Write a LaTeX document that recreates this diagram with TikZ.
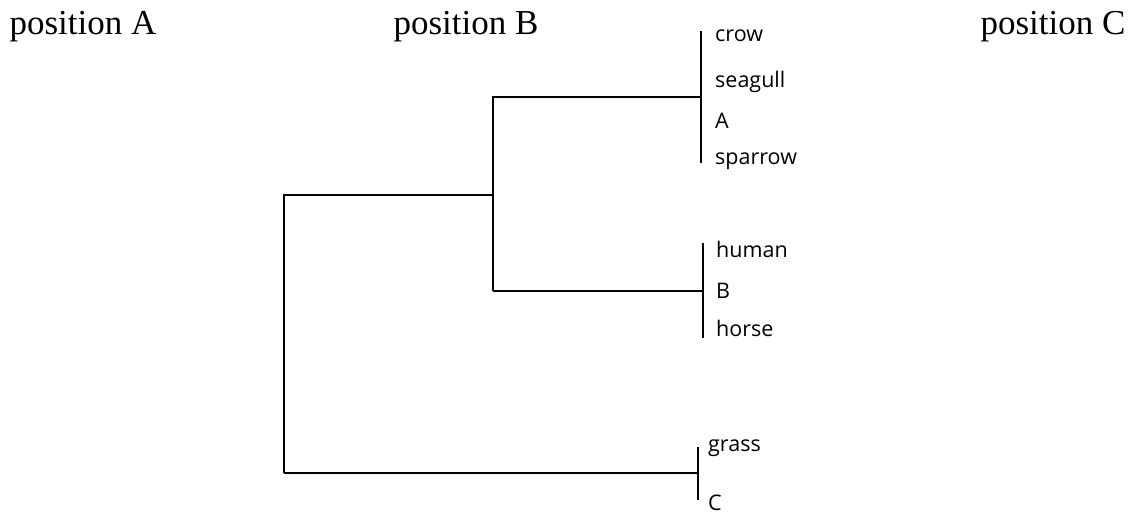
\documentclass[tikz,border=0pt]{standalone}
\usepackage{fontspec}
\setmainfont{Liberation Serif}
\newfontfamily\labfont{Open Sans}
\begin{document}
\begin{tikzpicture}[x=1pt,y=-1pt,
  branch/.style={line width=1.7pt},
  heading/.style={font=\fontsize{35}{40}\selectfont, anchor=base, inner sep=0pt},
  leaf/.style={font=\labfont\fontsize{21.5}{24}\selectfont, anchor=base west, inner sep=0pt}]
\useasboundingbox (0,0) rectangle (1135,513);
% headings
\node[heading] (pA) at (83,35) {position A};
\node[heading] (pB) at (466,35) {position B};
\node[heading] (pC) at (1053,35) {position C};
% tree joints
\coordinate (rt) at (284,195);
\coordinate (rb) at (284,473);
\coordinate (it) at (493,97);
\coordinate (im) at (493,195);
\coordinate (ib) at (493,291);
\coordinate (aj) at (701,97);
\coordinate (at) at (701,31);
\coordinate (ab) at (701,163);
\coordinate (bj) at (703,291);
\coordinate (bt) at (703,243);
\coordinate (bb) at (703,338);
\coordinate (cj) at (698,473);
\coordinate (ct) at (698,447);
\coordinate (cb) at (698,500);
\draw[branch] (rb) -- (rt) -- (im);
\draw[branch] (rb) -- (cj);
\draw[branch] (ib) -- (it) -- (aj);
\draw[branch] (ib) -- (bj);
\draw[branch] (at) -- (ab);
\draw[branch] (bt) -- (bb);
\draw[branch] (ct) -- (cb);
% leaves
\node[leaf] (crow) at (715,42) {crow};
\node[leaf] (seagull) at (715,88) {seagull};
\node[leaf] (A) at (715,129) {A};
\node[leaf] (sparrow) at (715,165) {sparrow};
\node[leaf] (human) at (716,257) {human};
\node[leaf] (B) at (716,298) {B};
\node[leaf] (horse) at (716,336) {horse};
\node[leaf] (grass) at (708,451) {grass};
\node[leaf] (C) at (708,510) {C};
\end{tikzpicture}
\end{document}
